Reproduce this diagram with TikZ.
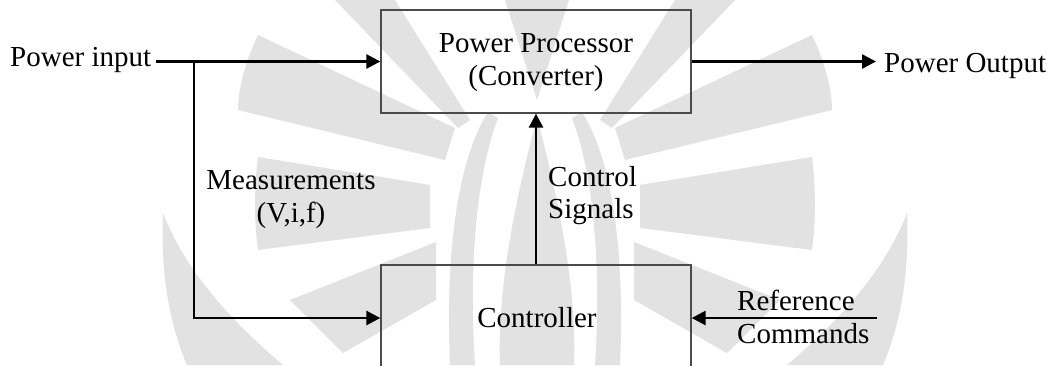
\documentclass[tikz,border=0pt]{standalone}
\usepackage{fontspec}
\setmainfont{Liberation Serif}
\usetikzlibrary{arrows.meta}
\definecolor{wm}{RGB}{226,226,226}
\definecolor{boxline}{RGB}{75,75,75}
\newcommand{\wmleftshapes}{%
  % upper-left petal
  \fill[wm] (258,35) .. controls (246,60) and (238,88) .. (238,110) -- (445,160) -- (455,128) -- cycle;
  % top petal
  \fill[wm] (335,0) -- (395,0) -- (470,120) -- (458,128) -- cycle;
  % middle-left petal
  \fill[wm] (258,157) .. controls (254,190) and (254,220) .. (258,250) -- (430,228) -- (430,185) -- cycle;
  % lower-left crescent
  \fill[wm] (163,213) .. controls (160,280) and (172,330) .. (187,365) -- (283,365) .. controls (230,320) and (185,270) .. (163,213) -- cycle;
  % lower-left petal
  \fill[wm] (290,300) -- (436,242) -- (436,300) -- (343,353) -- cycle;
  % flame outer band
  \fill[wm] (488,112) .. controls (458,160) and (445,250) .. (450,365) -- (475,365) .. controls (468,260) and (478,170) .. (498,118) -- cycle;
}
\begin{document}
\begin{tikzpicture}[x=1pt,y=-1pt,
  lbl/.style={font=\fontsize{29}{33}\selectfont, inner sep=0pt, text=black},
  blk/.style={draw=boxline, line width=1.3pt, inner sep=0pt, minimum width=310pt},
  conn/.style={line width=2.6pt, draw=black, -{Triangle[length=14pt,width=14pt]}},
]
\useasboundingbox (0,0) rectangle (1054,365);
\clip (0,0) rectangle (1054,365);
\fill[white] (0,0) rectangle (1054,365);

% watermark (light grey logo)
\wmleftshapes
\begin{scope}[shift={(1070,0)}, xscale=-1]
  \wmleftshapes
\end{scope}
\fill[wm] (505,0) -- (569,0) -- (537,100) -- cycle;
\fill[wm] (537,118) .. controls (515,200) and (497,290) .. (500,365) -- (574,365) .. controls (577,290) and (559,200) .. (537,118) -- cycle;

% blocks
\node[blk, minimum height=103pt] (pp) at (536,61.5) {};
\node[blk, minimum height=106pt] (ctl) at (536,318) {};

% texts
\node[lbl, anchor=base] (pp1) at (536,52) {Power Processor};
\node[lbl, anchor=base] (pp2) at (536,85) {(Converter)};
\node[lbl, anchor=base] (ctltxt) at (537,327) {Controller};
\node[lbl, anchor=base west] (pin) at (10,66) {Power input};
\node[lbl, anchor=base west] (pout) at (884,72) {Power Output};
\node[lbl, anchor=base] (m1) at (291,189) {Measurements};
\node[lbl, anchor=base] (m2) at (291,222) {(V,i,f)};
\node[lbl, anchor=base west] (cs1) at (548,186) {Control};
\node[lbl, anchor=base west] (cs2) at (548,218) {Signals};
\node[lbl, anchor=base west] (rc1) at (737,310) {Reference};
\node[lbl, anchor=base west] (rc2) at (737,343) {Commands};

% connectors
\coordinate (j) at (194,61.5);
\coordinate (refstart) at (877,318);
\draw[conn] ([xshift=5pt]pin.east |- pp.west) -- (pp.west);
\draw[conn] (j) |- (ctl.west);
\draw[conn] (ctl.north) -- (pp.south);
\draw[conn] (pp.east) -- ([xshift=-8pt]pout.west |- pp.east);
\draw[conn] (refstart) -- (ctl.east);
\end{tikzpicture}
\end{document}
